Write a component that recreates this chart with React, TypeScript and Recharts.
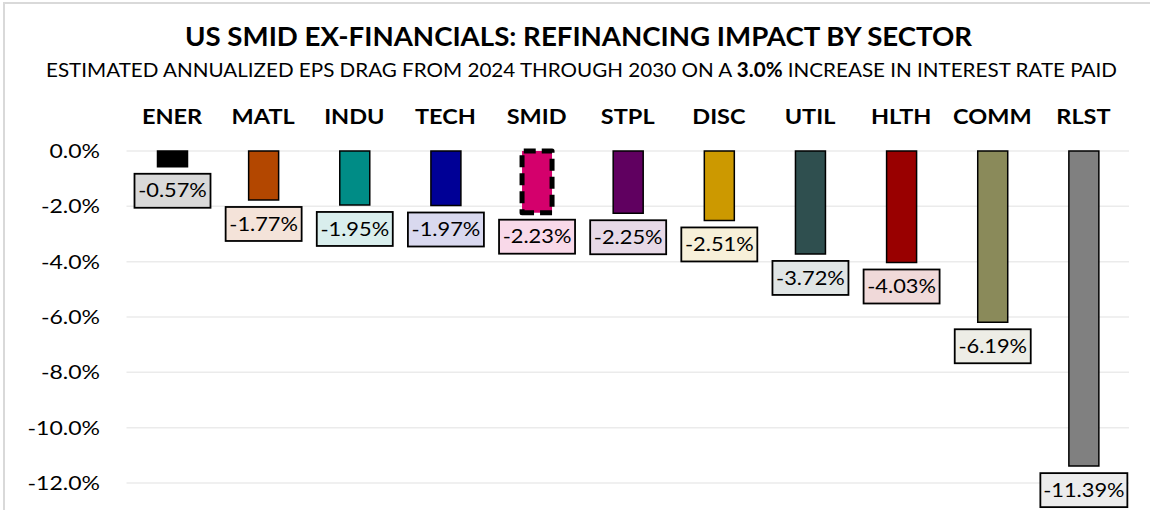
import React from "react";
import { BarChart, Bar, XAxis, YAxis, CartesianGrid, Cell, LabelList } from "recharts";

const sectors = ["ENER", "MATL", "INDU", "TECH", "SMID", "STPL", "DISC", "UTIL", "HLTH", "COMM", "RLST"];
const epsDrag = [-0.57, -1.77, -1.95, -1.97, -2.23, -2.25, -2.51, -3.72, -4.03, -6.19, -11.39];
const barColors = ["#000000", "#b34700", "#008c86", "#000096", "#d4006c", "#600060", "#cc9900", "#2f4f4f", "#990000", "#8a8a5a", "#808080"];
const yTicks = [0, -2, -4, -6, -8, -10, -12];

const FONT = "Lato, 'Noto Sans', sans-serif";
const STRETCH = 1.18;

const data = sectors.map((s, i) => ({ sector: s, value: epsDrag[i], color: barColors[i] }));

// light tint of the bar colour for the label boxes
const tint = (hex: string, amt = 0.15) => {
    const n = parseInt(hex.slice(1), 16);
    const mix = (c: number) => Math.round(c * amt + 255 * (1 - amt));
    return `rgb(${mix((n >> 16) & 255)},${mix((n >> 8) & 255)},${mix(n & 255)})`;
};

const SectorTick = (props: any) => {
    const { x, payload } = props;
    return (
        <g transform={`translate(${x}, 124) scale(1.12, 1)`}>
            <text x={0} y={0} textAnchor="middle" fontFamily={FONT} fontWeight={700} fontSize={21} fill="#000">
                {payload.value}
            </text>
        </g>
    );
};

const PctTick = (props: any) => {
    const { y, payload } = props;
    return (
        <g transform={`translate(100, ${y}) scale(${STRETCH}, 1)`}>
            <text x={0} y={0} dy="0.36em" textAnchor="end" fontFamily={FONT} fontSize={19.5} fill="#000">
                {payload.value.toFixed(1) + "%"}
            </text>
        </g>
    );
};

const ValueBox = (props: any) => {
    const { x, y, width, height, value, index } = props;
    const cx = x + width / 2;
    const bottom = Math.max(y, y + height);
    const txt = value.toFixed(2) + "%";
    const w = txt.length * 11 + 10;
    const h = 34;
    const top = bottom + 7;
    return (
        <g>
            <rect x={cx - w / 2} y={top} width={w} height={h} fill={tint(barColors[index])} stroke="#000" strokeWidth={1.8} />
            <g transform={`translate(${cx}, ${top + h / 2}) scale(${STRETCH}, 1)`}>
                <text x={0} y={0} dy="0.36em" textAnchor="middle" fontFamily={FONT} fontSize={18.5} fill="#000">
                    {txt}
                </text>
            </g>
        </g>
    );
};

const App = () => {
    return (
        <div style={{ position: "absolute", left: 0, top: 0, width: 1150, height: 510, overflow: "hidden", background: "#fff" }}>
            <div style={{ position: "absolute", left: 3, top: 2, width: 1160, height: 520, border: "2px solid #d9d9d9", boxSizing: "border-box" }} />
            <svg width={1150} height={100} style={{ position: "absolute", left: 0, top: 0 }}>
                <text x={185} y={46} textLength={787} lengthAdjust="spacingAndGlyphs" fontFamily={FONT} fontWeight={700} fontSize={26} fill="#000">
                    US SMID EX-FINANCIALS: REFINANCING IMPACT BY SECTOR
                </text>
                <text x={46} y={77} textLength={1071} lengthAdjust="spacingAndGlyphs" fontFamily={FONT} fontSize={20} fill="#000">
                    ESTIMATED ANNUALIZED EPS DRAG FROM 2024 THROUGH 2030 ON A <tspan fontWeight={700}>3.0%</tspan> INCREASE IN INTEREST RATE PAID
                </text>
            </svg>
            <div style={{ position: "absolute", left: 0, top: 0 }}>
                <BarChart width={1150} height={510} data={data} margin={{ top: 101, right: 21, bottom: 27, left: 26 }} barSize={30}>
                    <CartesianGrid vertical={false} stroke="#ebebeb" strokeWidth={1.5} />
                    <XAxis dataKey="sector" orientation="top" height={50} axisLine={false} tickLine={false} tick={<SectorTick />} interval={0} />
                    <YAxis domain={[-12, 0]} ticks={yTicks} width={100.5} axisLine={false} tickLine={false} tick={<PctTick />} />
                    <Bar dataKey="value" isAnimationActive={false} stroke="#000" strokeWidth={1.5}>
                        {data.map((d) => (
                            d.sector === "SMID" ? (
                                <Cell key={d.sector} fill={d.color} stroke="#000" strokeWidth={5} strokeDasharray="12 6" strokeLinejoin="round" />
                            ) : (
                                <Cell key={d.sector} fill={d.color} />
                            )
                        ))}
                        <LabelList dataKey="value" content={<ValueBox />} />
                    </Bar>
                </BarChart>
            </div>
        </div>
    );
};

export default App;
